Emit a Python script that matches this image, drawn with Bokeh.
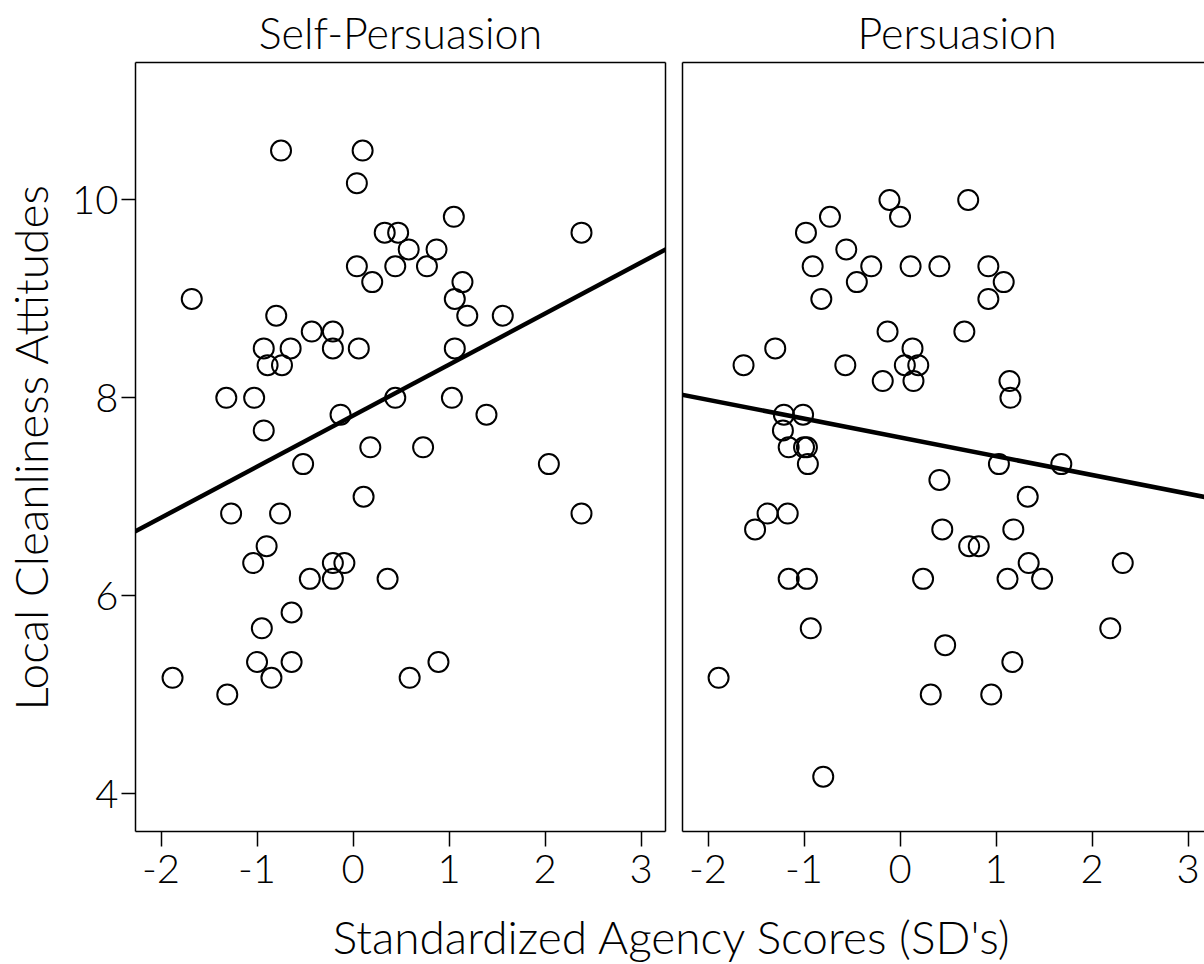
from bokeh.plotting import figure
from bokeh.models import Range1d, FixedTicker, LinearAxis, Label
from bokeh.layouts import row, column
from bokeh.embed import file_html
from bokeh.resources import INLINE

FONT = "Lato Light, Lato"

# ---- data ----
sp_x = [-0.75, 0.10, 0.04, 1.05, 0.33, 0.47, 2.38, 0.58, 0.87, 0.04,
        0.44, 0.77, 0.20, 1.14, -1.68, 1.06, -0.80, 1.19, 1.56, -0.43,
        -0.21, -0.93, -0.65, -0.21, 0.06, 1.06, -0.89, -0.74, -1.32, -1.03,
        0.44, 1.03, -0.13, 1.39, -0.93, 0.18, 0.73, -0.52, 2.04, 0.11,
        -1.27, -0.76, 2.38, -0.90, -1.04, -0.21, -0.09, -0.45, -0.21, 0.36,
        -0.64, -0.95, -1.00, -0.64, 0.89, -1.88, -0.85, 0.59, -1.31]
sp_y = [10.5, 10.5, 10.17, 9.83, 9.67, 9.67, 9.67, 9.5, 9.5, 9.33,
        9.33, 9.33, 9.17, 9.17, 9.0, 9.0, 8.83, 8.83, 8.83, 8.67,
        8.67, 8.5, 8.5, 8.5, 8.5, 8.5, 8.33, 8.33, 8.0, 8.0,
        8.0, 8.0, 7.83, 7.83, 7.67, 7.5, 7.5, 7.33, 7.33, 7.0,
        6.83, 6.83, 6.83, 6.5, 6.33, 6.33, 6.33, 6.17, 6.17, 6.17,
        5.83, 5.67, 5.33, 5.33, 5.33, 5.17, 5.17, 5.17, 5.0]

pe_x = [-0.11, 0.71, -0.73, 0.00, -0.98, -0.56, -0.91, -0.30, 0.11, 0.41,
        0.92, -0.45, 1.08, -0.82, 0.92, -0.13, 0.67, -1.30, 0.13, -1.63,
        -0.57, 0.05, 0.19, -0.18, 0.14, 1.14, 1.15, -1.21, -1.01, -1.22,
        -1.16, -1.00, -0.97, -0.96, 1.03, 1.68, 0.41, 1.33, -1.38, -1.17,
        -1.51, 0.44, 1.18, 0.72, 0.82, 1.34, 2.32, -1.16, -0.97, 0.24,
        1.12, 1.48, -0.93, 2.19, 0.47, 1.17, -1.89, 0.32, 0.95, -0.80]
pe_y = [10.0, 10.0, 9.83, 9.83, 9.67, 9.5, 9.33, 9.33, 9.33, 9.33,
        9.33, 9.17, 9.17, 9.0, 9.0, 8.67, 8.67, 8.5, 8.5, 8.33,
        8.33, 8.33, 8.33, 8.17, 8.17, 8.17, 8.0, 7.83, 7.83, 7.67,
        7.5, 7.5, 7.5, 7.33, 7.33, 7.33, 7.17, 7.0, 6.83, 6.83,
        6.67, 6.67, 6.67, 6.5, 6.5, 6.33, 6.33, 6.17, 6.17, 6.17,
        6.17, 6.17, 5.67, 5.67, 5.5, 5.33, 5.17, 5.0, 5.0, 4.17]

# fitted lines: intercept, slope
sp_fit = [7.82, 0.516]
pe_fit = [7.60, -0.19]

x_ticks = [-2, -1, 0, 1, 2, 3]
x_tick_labels = ["-2", "-1", "0", "1", "2", "3"]
y_ticks = [4, 6, 8, 10]
y_tick_labels = ["4", "6", "8", "10"]
titles = ["Self-Persuasion", "Persuasion"]
y_label = "Local Cleanliness Attitudes"
x_label = "Standardized Agency Scores (SD's)"

X0 = -2.266
Y0, Y1 = 3.616, 11.39
H = 905
TOP = 62
BOT = H - TOP - 769


def style_axis(ax, ticks, labels):
    ax.ticker = FixedTicker(ticks=ticks)
    ax.major_label_overrides = {t: s for t, s in zip(ticks, labels)}
    ax.axis_line_color = "black"
    ax.axis_line_width = 1.5
    ax.major_tick_line_color = "black"
    ax.major_tick_line_width = 1.5
    ax.major_tick_in = 0
    ax.major_tick_out = 15
    ax.minor_tick_line_color = None
    ax.major_label_text_font = FONT
    ax.major_label_text_font_size = "40px"
    ax.major_label_text_color = "black"


def border_axis(p, side):
    ax = LinearAxis(ticker=FixedTicker(ticks=[]))
    ax.axis_line_color = "black"
    ax.axis_line_width = 1.5
    ax.major_tick_line_color = None
    ax.minor_tick_line_color = None
    ax.major_label_text_font_size = "0px"
    p.add_layout(ax, side)


def panel(xs, ys, fit, title, width, x1, left_border, right_border, with_y):
    p = figure(width=width, height=H, output_backend="svg", toolbar_location=None,
               x_range=Range1d(X0, x1), y_range=Range1d(Y0, Y1),
               y_axis_location="left" if with_y else None,
               min_border_left=left_border, min_border_right=right_border,
               min_border_top=TOP, min_border_bottom=BOT)
    p.title.text = title
    p.title.text_font = FONT
    p.title.text_font_size = "43px"
    p.title.text_font_style = "normal"
    p.title.align = "center"
    p.title.text_color = "black"
    p.title.standoff = 9
    p.grid.visible = False
    p.outline_line_color = None
    p.background_fill_color = "white"
    p.border_fill_color = "white"
    style_axis(p.xaxis[0], x_ticks, x_tick_labels)
    p.xaxis[0].major_label_standoff = 8
    if with_y:
        style_axis(p.yaxis[0], y_ticks, y_tick_labels)
        p.yaxis[0].major_tick_out = 14
        p.yaxis[0].major_label_standoff = 3
        p.yaxis[0].axis_label = y_label
        p.yaxis[0].axis_label_text_font = FONT
        p.yaxis[0].axis_label_text_font_size = "46px"
        p.yaxis[0].axis_label_text_font_style = "normal"
        p.yaxis[0].axis_label_text_color = "black"
        p.yaxis[0].axis_label_standoff = 11
    else:
        border_axis(p, "left")
    border_axis(p, "above")
    if with_y:
        border_axis(p, "right")
    lx = [X0 - 0.5, x1 + 0.5]
    p.line(lx, [fit[0] + fit[1] * v for v in lx], line_color="black", line_width=4.5)
    p.scatter(xs, ys, marker="circle", size=20, fill_color=None,
              line_color="black", line_width=2)
    return p


W1 = 673
W2 = 1204 - W1
p1 = panel(sp_x, sp_y, sp_fit, titles[0], W1, 3.255, 135, 8, True)
p2 = panel(pe_x, pe_y, pe_fit, titles[1], W2, X0 + (W2 - 9) / 96.0, 9, 0, False)
p2.title.align = "left"
p2.title.offset = 175

lab_h = 58
p3 = figure(width=1204, height=lab_h, output_backend="svg", toolbar_location=None,
            x_range=Range1d(0, 1204), y_range=Range1d(0, lab_h),
            x_axis_location=None, y_axis_location=None, title=None,
            min_border=0)
p3.grid.visible = False
p3.outline_line_color = None
p3.add_layout(Label(x=672, y=27, text=x_label, text_align="center",
                    text_baseline="middle", text_font=FONT,
                    text_font_size="46px", text_color="black"))

layout = column(row(p1, p2), p3)
open("out.html", "w").write(file_html(layout, INLINE))
